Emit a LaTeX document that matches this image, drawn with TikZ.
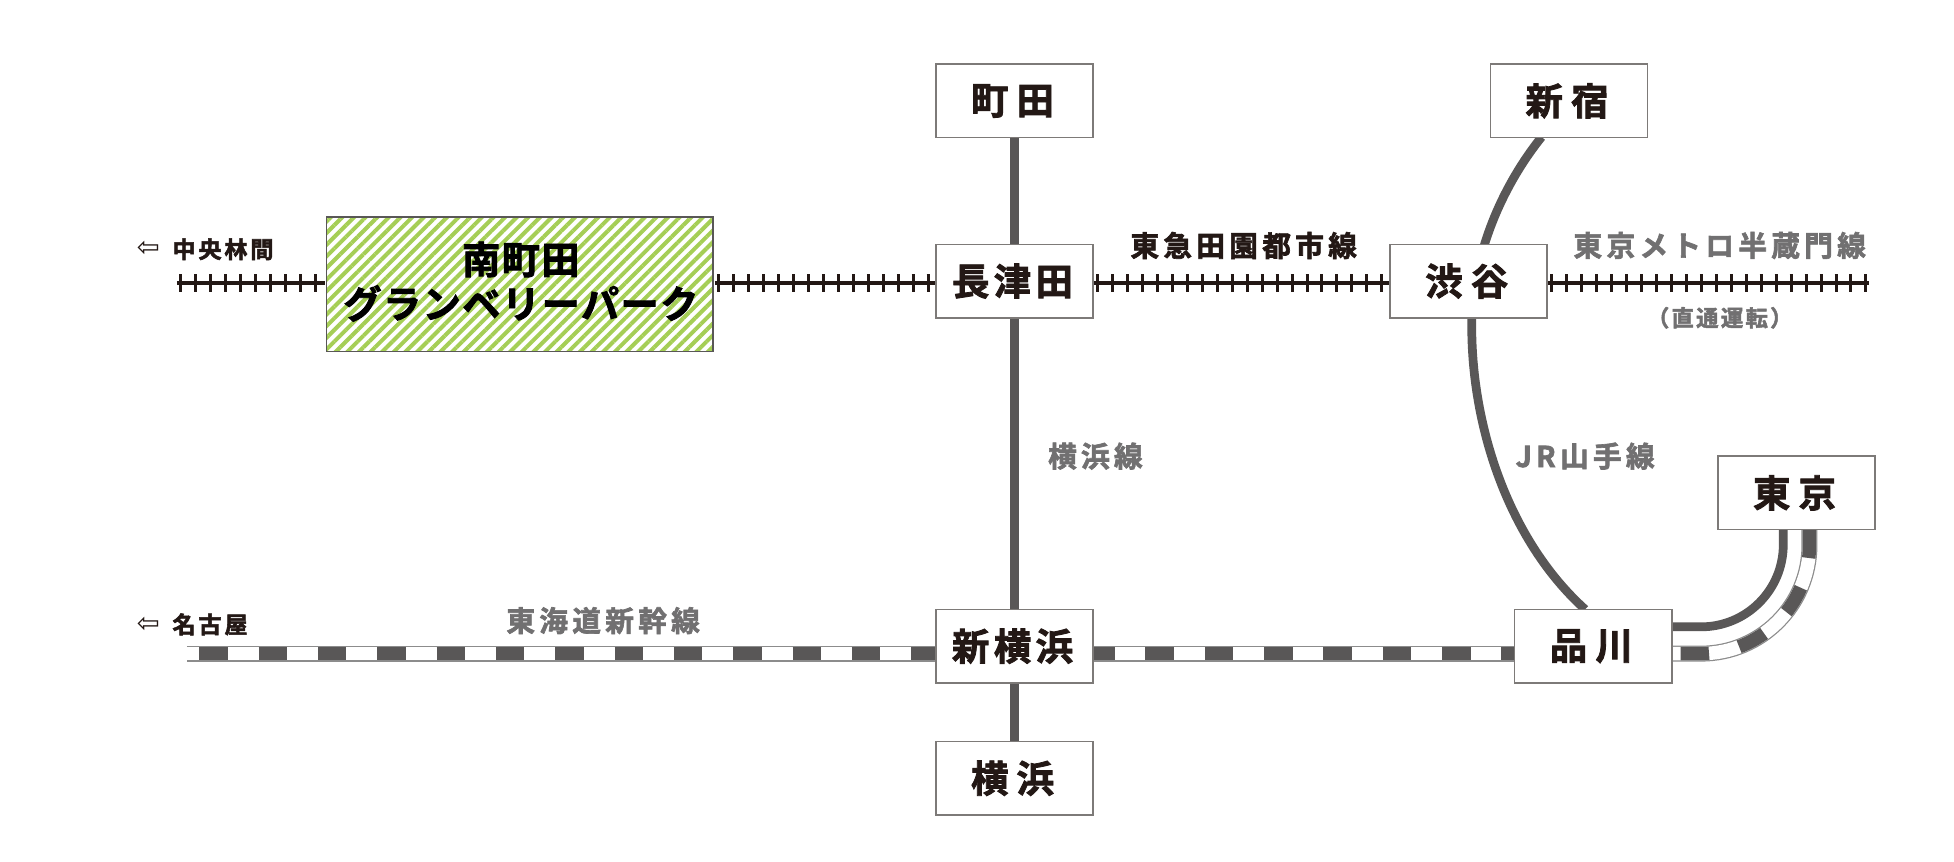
\documentclass[tikz,border=0pt]{standalone}
\usepackage{fontspec}
\usetikzlibrary{backgrounds,patterns.meta,calc}
\newfontfamily\cjk[BoldFont={Noto Sans CJK JP Bold},BoldFeatures={FakeBold=2.2}]{Noto Sans CJK JP}
\newfontfamily\arrowfont{DejaVu Sans}
\newcommand{\jpfont}[2]{\cjk\bfseries\fontsize{#1}{#1}\selectfont\addfontfeature{LetterSpace=#2}}
\newcommand{\st}[2]{\raisebox{#1pt}{#2\kern1.5pt}}
\definecolor{inkdark}{HTML}{231815}
\definecolor{linegrey}{HTML}{595757}
\definecolor{labelgrey}{HTML}{717071}
\definecolor{framegrey}{HTML}{7D7A78}
\definecolor{hatchgreen}{HTML}{A5CE55}
\tikzset{
  x=0.5pt,y=-0.5pt,
  station/.style={draw=framegrey,line width=0.6pt,fill=white,minimum width=63pt,minimum height=29.5pt,inner sep=0pt,text=inkdark,font=\jpfont{15}{22}},
  stationtight/.style={station,font=\jpfont{15}{12}},
  parkbox/.style={draw=linegrey,line width=0.6pt,minimum width=155pt,minimum height=54pt,inner sep=0pt,
    preaction={fill=white},pattern={Lines[angle=45,distance=3.3pt,line width=1.6pt]},pattern color=hatchgreen},
  parktext/.style={text=black,align=center,font=\jpfont{15.3}{4}},
  linelabel/.style={inner sep=0pt,text=labelgrey,font=\jpfont{11.5}{15}},
  darklabel/.style={inner sep=0pt,text=inkdark,font=\jpfont{11.5}{15}},
  smalllabel/.style={inner sep=0pt,text=labelgrey,font=\jpfont{9}{10}},
  dirlabel/.style={inner sep=0pt,text=inkdark,anchor=west,font=\jpfont{9.3}{12}},
  dirarrow/.style={inner sep=0pt,text=inkdark,font=\arrowfont\fontsize{11}{11}\selectfont},
  heavyline/.style={draw=linegrey,line width=3.5pt},
  railbase/.style={draw=inkdark,line width=1.5pt},
  railties/.style={draw=inkdark,line width=7.5pt,dash pattern=on 1.2pt off 4.8pt,dash phase=5pt},
  bullet/.style={draw=black!45,line width=6.4pt,
    postaction={draw=white,line width=5.4pt},
    postaction={draw=linegrey,line width=5.4pt,dash pattern=on 11.4pt off 12.4pt,dash phase=#1}},
}
\begin{document}
\begin{tikzpicture}
\useasboundingbox (0,0) rectangle (1568,691.7);
% stations
\node[station] (machida) at (814,81) {\st{0}{町田}};
\node[stationtight] (nagatsuta) at (814,225.5) {\st{-0.5}{長津田}};
\node[stationtight] (shinyoko) at (814,518.5) {\st{-1}{新横浜}};
\node[station] (yokohama) at (814,624.5) {\st{-0.5}{横浜}};
\node[station] (shinjuku) at (1259,81) {\st{1.5}{新宿}};
\node[station] (shibuya) at (1178.5,225.5) {\st{1}{渋谷}};
\node[station] (shinagawa) at (1278.5,518.5) {\st{0.5}{品川}};
\node[station] (tokyo) at (1441.5,395.5) {\st{0.5}{東京}};
\node[parkbox] (park) at (417,228) {};
\node[parktext] (parkname) at (418,226) {南町田\\[2.5pt]グランベリーパーク};
% free ends and attachment points
\coordinate (trackW) at (142,227);
\coordinate (trackE) at (1500,227);
\coordinate (bulletW) at (150,524.5);
\coordinate (ymN) at (1237,110);
\coordinate (ymS) at (1272,489);
\coordinate (ymE) at (1341,503);
\coordinate (ymT) at (1431,425);
\coordinate (buE) at (1341,524.5);
\coordinate (buT) at (1452,425);
\begin{scope}[on background layer]
  \fill[white] (0,0) rectangle (1568,691.7);
  \draw[heavyline] (machida) -- (yokohama);
  \draw[heavyline] (ymN) .. controls (1205,150) and (1181,205) .. (1181,262) .. controls (1181,345) and (1212,435) .. (ymS);
  \draw[heavyline] (ymE) -- (1365,503) arc[start angle=-90,end angle=0,radius=33pt] -- (ymT);
  \foreach \a/\b in {trackW/{park.west |- trackW},{park.east |- trackW}/{nagatsuta.west |- trackW},{nagatsuta.east |- trackW}/{shibuya.west |- trackW},{shibuya.east |- trackW}/trackE}{
    \draw[railbase] (\a) -- (\b);
    \draw[railties] (\a) -- (\b);
  }
  \draw[bullet=18.8pt] (bulletW) -- (shinyoko.west |- bulletW);
  \draw[bullet=3pt] (shinyoko.east |- bulletW) -- (shinagawa.west |- bulletW);
  \draw[bullet=20pt] (buE) -- (1365,524.5) arc[start angle=-90,end angle=0,radius=43.5pt] -- (buT);
\end{scope}
% labels
\node[darklabel] (denen) at (998,197) {東急田園都市線};
\node[linelabel] (hanzomon) at (1380,197) {東京メトロ半蔵門線};
\node[smalllabel] (direct) at (1380,255) {（直通運転）};
\node[linelabel] (yokosen) at (879,366) {横浜線};
\node[linelabel] (yamanote) at (1272,366) {JR山手線};
\node[linelabel] (tokaido) at (484,498) {東海道新幹線};
\node[dirarrow] (arrowA) at (119,200) {⇦};
\node[dirlabel] (chuo) at (138,200) {中央林間};
\node[dirarrow] (arrowB) at (119,501) {⇦};
\node[dirlabel] (nagoya) at (138,501) {名古屋};
\end{tikzpicture}
\end{document}
